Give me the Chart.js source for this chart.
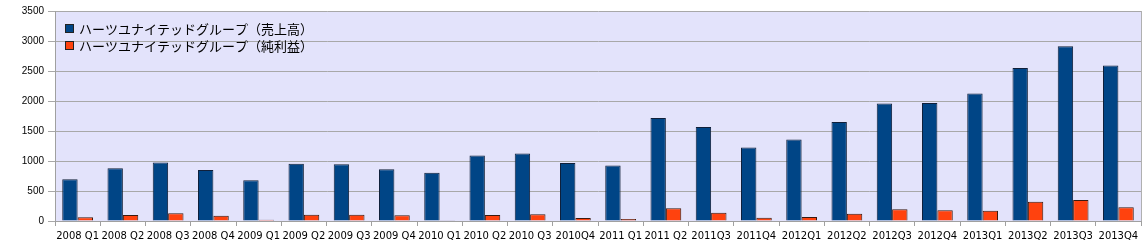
<!DOCTYPE html>
<html><head><meta charset="utf-8">
<script src="https://cdn.jsdelivr.net/npm/chart.js@4/dist/chart.umd.min.js"></script>
<style>html,body{margin:0;padding:0;background:#fff;}#wrap{width:1146px;height:249px;}</style>
</head><body><div id="wrap"><canvas id="c" width="1146" height="249"></canvas></div>
<script>
const categories = ["2008 Q1","2008 Q2","2008 Q3","2008 Q4","2009 Q1","2009 Q2","2009 Q3","2009 Q4","2010 Q1","2010 Q2","2010 Q3","2010Q4","2011 Q1","2011 Q2","2011Q3","2011Q4","2012Q1","2012Q2","2012Q3","2012Q4","2013Q1","2013Q2","2013Q3","2013Q4"];
const revenue = [695, 878, 973, 850, 678, 956, 945, 862, 806, 1090, 1123, 967, 923, 1717, 1567, 1223, 1357, 1650, 1957, 1967, 2123, 2550, 2912, 2590];
const profit = [62, 100, 128, 89, 22, 106, 106, 95, 11, 100, 111, 50, 33, 211, 139, 56, 67, 122, 195, 178, 172, 322, 350, 228];
const seriesNames = ["ハーツユナイテッドグループ（売上高）", "ハーツユナイテッドグループ（純利益）"];
const yTicks = [0, 500, 1000, 1500, 2000, 2500, 3000, 3500];

const bgPlugin = {
  id: 'bg',
  beforeDraw(chart) {
    const {ctx, chartArea: a} = chart;
    ctx.save();
    ctx.fillStyle = '#e3e3fb';
    ctx.fillRect(a.left, a.top, a.right - a.left, a.bottom - a.top);
    ctx.restore();
  },
  afterDatasetsDraw(chart) {
    const {ctx, chartArea: a} = chart;
    ctx.save();
    ctx.strokeStyle = '#b0b0b0';
    ctx.lineWidth = 1;
    ctx.beginPath();
    ctx.moveTo(Math.round(a.right) + 0.5, a.top);
    ctx.lineTo(Math.round(a.right) + 0.5, a.bottom);
    ctx.stroke();
    // legend
    ctx.font = '13px "Noto Sans CJK JP"';
    ctx.textBaseline = 'middle';
    chart.data.datasets.forEach((ds, i) => {
      const y = a.top + 18 + i * 17;
      const x = a.left + 10;
      ctx.fillStyle = ds.backgroundColor;
      ctx.fillRect(x, y - 4, 8, 8);
      ctx.strokeStyle = '#222';
      ctx.strokeRect(x + 0.5, y - 4.5, 8, 8);
      ctx.fillStyle = '#000';
      ctx.fillText(ds.label, x + 14, y);
    });
    ctx.restore();
  }
};

new Chart(document.getElementById('c'), {
  type: 'bar',
  data: {
    labels: categories,
    datasets: [
      { label: seriesNames[0], data: revenue, backgroundColor: '#004586', borderColor: '#10203a', borderWidth: 1, borderSkipped: 'bottom' },
      { label: seriesNames[1], data: profit, backgroundColor: '#ff420e', borderColor: '#3a1a10', borderWidth: 1, borderSkipped: 'bottom' }
    ]
  },
  options: {
    responsive: false,
    animation: false,
    devicePixelRatio: 1,
    layout: { padding: { top: 11, right: 5, left: 0, bottom: 0 } },
    plugins: { legend: { display: false }, tooltip: { enabled: false } },
    datasets: { bar: { categoryPercentage: 0.68, barPercentage: 1.0 } },
    scales: {
      x: {
        grid: { drawOnChartArea: false, drawTicks: true, tickLength: 5, color: '#a0a0a0', offset: true },
        border: { color: '#a0a0a0' },
        ticks: { color: '#000', font: { family: 'DejaVu Sans', size: 10 }, maxRotation: 0, autoSkip: false, padding: 4 },
        afterFit(s) { s.height = 28; }
      },
      y: {
        min: 0, max: 3500,
        afterBuildTicks(s) { s.ticks = yTicks.map(v => ({ value: v })); },
        grid: { color: '#a8a8a8', tickLength: 7 },
        border: { color: '#a0a0a0' },
        ticks: { color: '#000', font: { family: 'Liberation Sans', size: 10 }, padding: 4, callback: v => String(v) },
        afterFit(s) { s.width = 55; }
      }
    }
  },
  plugins: [bgPlugin]
});
</script></body></html>
